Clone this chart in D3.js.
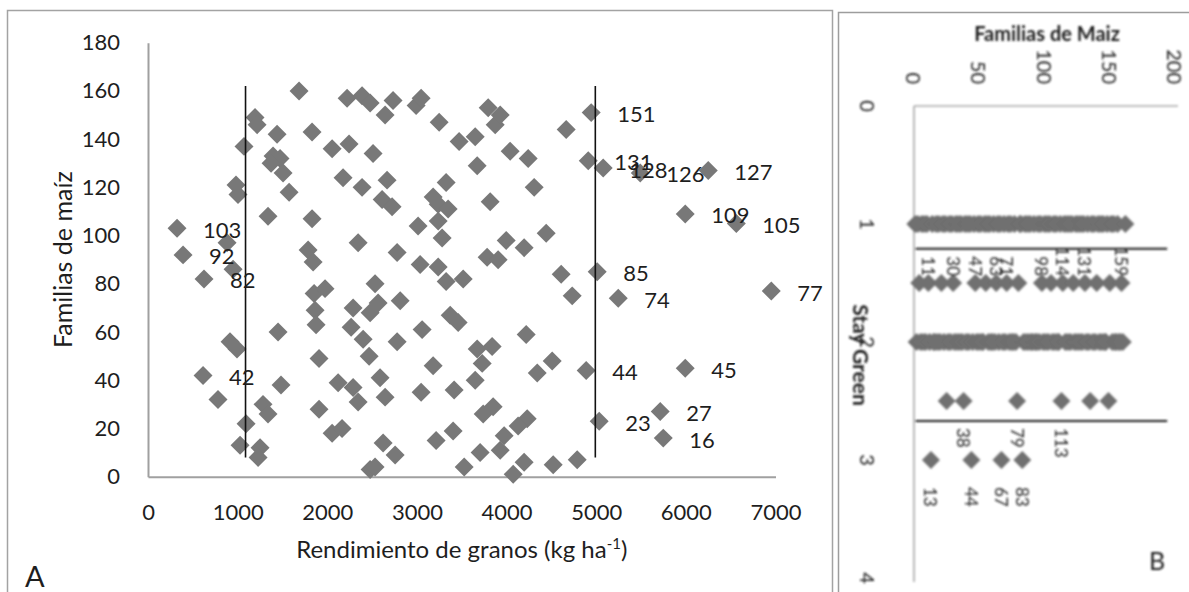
<!DOCTYPE html>
<html>
<head>
<meta charset="utf-8">
<script src="https://cdn.jsdelivr.net/npm/d3@7"></script>
<style>
  body { margin: 0; background: #fff; }
  svg { display: block; }
  text { font-family: Lato, "Open Sans", sans-serif; fill: #1e1e1e; }
</style>
</head>
<body>
<svg id="fig" width="1189" height="592"></svg>
<script>
// ---------- Panel A: grain yield (kg/ha) per maize family ----------
const rendimiento = [1685,2221,2388,2478,2734,2645,2991,3047,3248,3795,3873,1194,1217,1440,1830,1071,2054,2243,2511,3471,
  3650,3672,1395,1473,1373,1507,2176,2388,2667,3326,982,1004,1574,2612,2723,3181,3237,3348,3817,3237,
  3281,3013,1339,1830,882,2344,2779,1786,1842,3036,3237,3783,949,1853,1975,1864,1875,2533,2567,2478,
  2813,2288,2266,2400,2467,2779,3058,3326,3516,3371,3460,3672,3839,3728,915,993,1451,1908,781,1484,
  1283,1339,1094,1027,1250,1228,1908,2121,2288,2344,2589,2645,3047,3181,3415,3650,2054,2165,2623,2757,
  2478,2533,3214,3404,3527,3705,3739,3850,3929,4665,4040,4241,4308,4442,3996,4196,3906,4609,4732,4219,
  4509,4342,4230,4129,3973,3929,4196,4074,4520,4788];
const familias = [160,157,158,155,156,150,154,157,147,153,146,149,146,142,143,137,136,138,134,139,
  141,129,133,132,130,126,124,120,123,122,121,117,118,115,112,116,113,111,114,106,
  99,104,108,107,97,97,93,94,89,88,87,91,86,76,78,69,63,80,72,68,
  73,70,62,57,50,56,61,81,82,67,64,53,54,47,56,53,60,49,32,38,
  30,26,22,13,12,8,28,39,37,31,41,33,35,46,36,40,18,20,14,9,
  3,4,15,19,4,10,26,29,150,144,135,132,120,101,98,95,90,84,75,59,
  48,43,24,21,17,11,6,1,5,7];

// families outside the reference lines, drawn with their number
const rendDestacadas = [324,391,625,614,4944,4911,5078,5491,6250,5993,6563,5011,5246,6953,4888,5993,5033,5714,5748];
const famDestacadas  = [103,92,82,42,151,131,128,126,127,109,105,85,74,77,44,45,23,27,16];

const cortes = [1088, 4990];          // vertical reference lines (kg/ha)
const corteFamilias = [8, 162];       // vertical extent of those lines

const ticksXA = [0,1000,2000,3000,4000,5000,6000,7000];
const ticksYA = [0,20,40,60,80,100,120,140,160,180];

// ---------- Panel B: Stay Green score per family ----------
const stay1  = [1,3,6,8,10,14,17,19,22,24,27,29,32,34,36,39,41,43,46,49,51,54,56,58,61,64,66,69,72,74,77,81,82,85,87,89,92,95,97,100,102,104,107,109,112,115,117,119,121,124,126,128,130,133,136,138,141,143,145,148,151,153,156,162];
const stay15 = [4,11,21,30,47,55,63,71,80,98,105,114,122,131,140,150,159];
const stay2  = [2,5,7,9,12,15,16,18,20,23,26,28,31,33,35,37,40,42,45,48,50,52,53,57,59,60,62,65,68,70,73,75,76,78,84,86,88,90,91,93,94,96,99,101,103,106,108,110,111,116,118,120,123,125,127,129,132,134,137,139,142,144,146,147,152,154,155,157,158,160];
const stay25 = [25,38,79,113,135,149];
const stay3  = [13,44,67,83];

const etiq15 = [11,30,47,63,71,98,114,131,159];
const etiq25 = [38,79,113];
const etiq3  = [13,44,67,83];

const divisiones = [1.21, 2.67];      // horizontal separators (Stay Green)
const divExtent = [1, 194];           // family range of the separators

const ticksXB = [0,50,100,150,200];
const ticksYB = [0,1,2,3,4];

// ---------------------------------------------------------------
const svg = d3.select("#fig");
const gris = "#787878";
const diamante = d3.symbol(d3.symbolSquare, 180)();
const diamanteB = d3.symbol(d3.symbolSquare, 160)();

// panel frames
svg.append("rect").attr("x", 7.5).attr("y", 10.5).attr("width", 825).attr("height", 620)
  .attr("fill", "none").attr("stroke", "#a3a3a3").attr("stroke-width", 1.5);
svg.append("rect").attr("x", 838.5).attr("y", 12.5).attr("width", 400).attr("height", 620)
  .attr("fill", "none").attr("stroke", "#9d9d9d").attr("stroke-width", 1.5);

// ===== Panel A =====
const xA = d3.scaleLinear([0, 7000], [148, 775.5]);
const yA = d3.scaleLinear([0, 180], [476.7, 42.7]);
const gA = svg.append("g");

const axX = gA.append("g").attr("transform", `translate(0,${yA(0)})`)
  .call(d3.axisBottom(xA).tickValues(ticksXA).tickFormat(d3.format("d"))
    .tickSize(0).tickPadding(28).tickSizeOuter(0));
const axY = gA.append("g").attr("transform", `translate(${xA(0)},0)`)
  .call(d3.axisLeft(yA).tickValues(ticksYA).tickFormat(d3.format("d"))
    .tickSize(0).tickPadding(28).tickSizeOuter(0));
[axX, axY].forEach(ax => {
  ax.select(".domain").attr("stroke", "#a0a0a0").attr("stroke-width", 2);
  ax.selectAll("text").attr("font-size", 22).attr("font-family", "Lato").attr("fill", "#1e1e1e");
});

// axis titles
const tx = gA.append("text").attr("x", (xA.range()[0] + xA.range()[1]) / 2).attr("y", 558)
  .attr("text-anchor", "middle").attr("font-size", 24);
tx.append("tspan").text("Rendimiento de granos (kg ha");
tx.append("tspan").attr("font-size", 15).attr("dy", -9).text("-1");
tx.append("tspan").attr("dy", 9).text(")");

gA.append("text").attr("transform", `translate(62,${(yA.range()[0] + yA.range()[1]) / 2}) rotate(-90)`)
  .attr("text-anchor", "middle").attr("dominant-baseline", "central").attr("font-size", 25)
  .text("Familias de maíz");

gA.append("text").attr("x", 25).attr("y", 587).attr("font-size", 29).text("A");

// points
const ptsA = rendimiento.map((r, i) => ({ r, f: familias[i] }))
  .concat(rendDestacadas.map((r, i) => ({ r, f: famDestacadas[i] })));
gA.append("g").selectAll("path").data(ptsA).join("path")
  .attr("d", diamante).attr("fill", gris)
  .attr("transform", d => `translate(${xA(d.r)},${yA(d.f)}) rotate(45)`);

// reference lines
gA.append("g").selectAll("line").data(cortes).join("line")
  .attr("x1", d => xA(d)).attr("x2", d => xA(d))
  .attr("y1", yA(corteFamilias[1])).attr("y2", yA(corteFamilias[0]))
  .attr("stroke", "#111").attr("stroke-width", 1.6);

// family numbers
gA.append("g").selectAll("text").data(rendDestacadas.map((r, i) => ({ r, f: famDestacadas[i] }))).join("text")
  .attr("x", d => xA(d.r) + 26).attr("y", d => yA(d.f) + 1)
  .attr("dominant-baseline", "central").attr("font-size", 22)
  .text(d => d.f);

// ===== Panel B =====
const defs = svg.append("defs");
defs.append("filter").attr("id", "suave").append("feGaussianBlur").attr("stdDeviation", 0.8);

const xB = d3.scaleLinear([0, 200], [914, 1175]);
const yB = d3.scaleLinear([0, 4], [106, 578]);
const gB = svg.append("g").attr("filter", "url(#suave)");

// axis lines
gB.append("line").attr("x1", xB(0)).attr("x2", xB(200) + 3).attr("y1", yB(0)).attr("y2", yB(0))
  .attr("stroke", "#a8a8a8").attr("stroke-width", 1.6);
gB.append("line").attr("x1", xB(0)).attr("x2", xB(0)).attr("y1", yB(0)).attr("y2", yB(4) + 4)
  .attr("stroke", "#a8a8a8").attr("stroke-width", 1.6);

// rotated tick labels
gB.append("g").selectAll("text").data(ticksXB).join("text")
  .attr("transform", d => `translate(${xB(d)},84) rotate(90)`)
  .attr("text-anchor", "end").attr("dominant-baseline", "central").attr("font-size", 20)
  .text(d => d);
gB.append("g").selectAll("text").data(ticksYB).join("text")
  .attr("transform", d => `translate(868,${yB(d)}) rotate(90)`)
  .attr("text-anchor", "middle").attr("dominant-baseline", "central").attr("font-size", 20)
  .text(d => d);

gB.append("text").attr("x", 1047).attr("y", 41).attr("text-anchor", "middle")
  .attr("font-size", 20).attr("font-weight", 700).text("Familias de Maiz");
gB.append("text").attr("transform", "translate(861,355) rotate(90)")
  .attr("text-anchor", "middle").attr("dominant-baseline", "central")
  .attr("font-size", 21).attr("font-weight", 700).text("Stay Green");

// points by Stay Green score
const filas = [[1, stay1], [1.5, stay15], [2, stay2], [2.5, stay25], [3, stay3]];
const ptsB = filas.flatMap(([v, fams]) => fams.map(f => ({ f, v })));
gB.append("g").selectAll("path").data(ptsB).join("path")
  .attr("d", diamanteB).attr("fill", "#6f6f6f")
  .attr("transform", d => `translate(${xB(d.f)},${yB(d.v)}) rotate(45)`);

// separators
gB.append("g").selectAll("line").data(divisiones).join("line")
  .attr("x1", xB(divExtent[0])).attr("x2", xB(divExtent[1]))
  .attr("y1", d => yB(d)).attr("y2", d => yB(d))
  .attr("stroke", "#1a1a1a").attr("stroke-width", 2);

// family numbers (rotated)
gB.append("g").selectAll("text").data(etiq15).join("text")
  .attr("transform", d => `translate(${xB(d)},${yB(1.5) - 7}) rotate(90)`)
  .attr("text-anchor", "end").attr("dominant-baseline", "central").attr("font-size", 17)
  .text(d => d);
gB.append("g").selectAll("text").data(etiq25.map(f => ({ f, v: 2.5 })).concat(etiq3.map(f => ({ f, v: 3 })))).join("text")
  .attr("transform", d => `translate(${xB(d.f)},${yB(d.v) + 27}) rotate(90)`)
  .attr("text-anchor", "start").attr("dominant-baseline", "central").attr("font-size", 17)
  .text(d => d.f);

gB.append("text").attr("x", 1157).attr("y", 570).attr("text-anchor", "middle")
  .attr("font-size", 25).text("B");
</script>
</body>
</html>
